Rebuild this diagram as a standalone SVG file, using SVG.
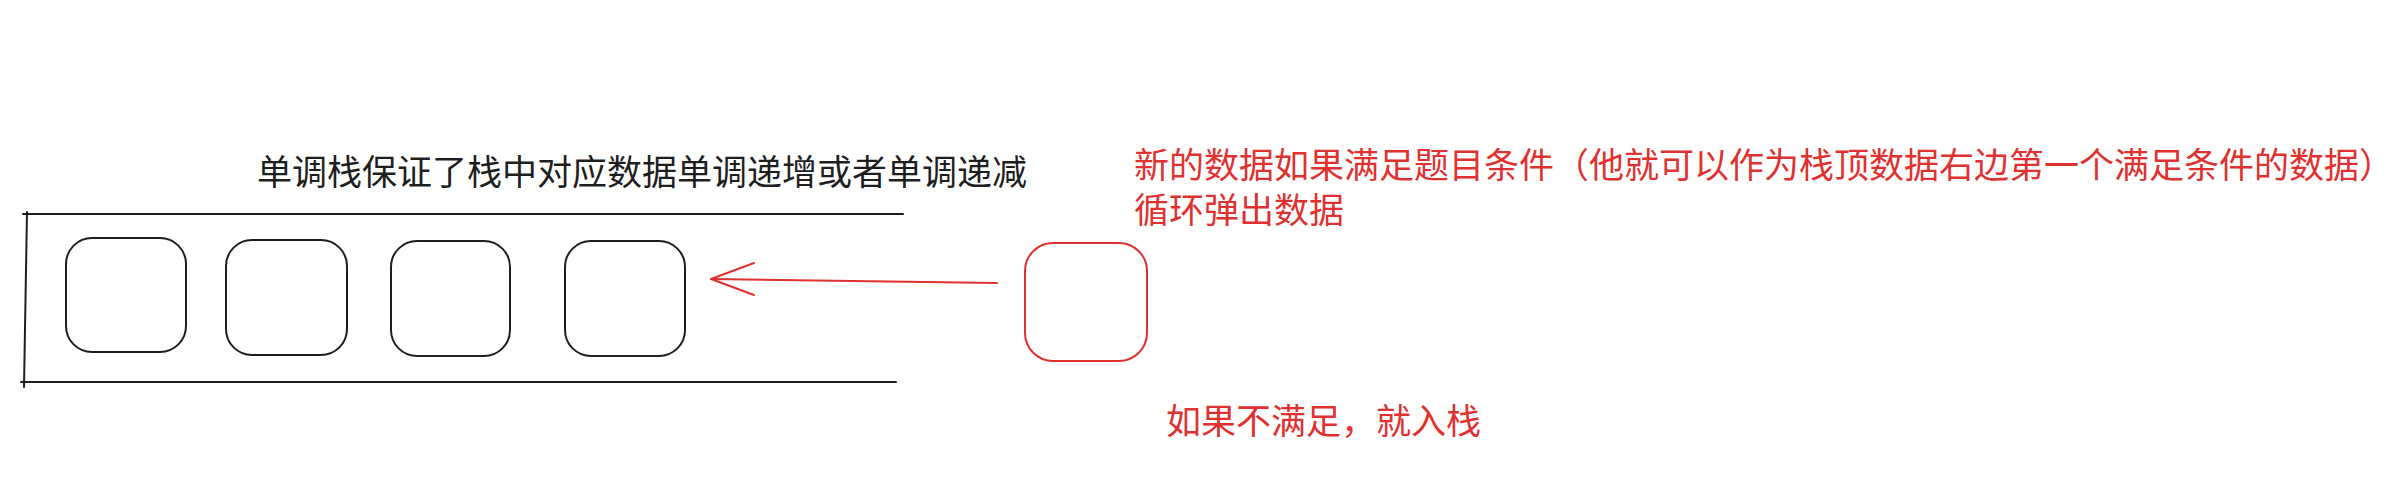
<svg xmlns="http://www.w3.org/2000/svg" width="2397" height="484" viewBox="0 0 2397 484">
<style>
.blk{fill:none;stroke:#1e1e1e;stroke-width:2;stroke-linecap:round;stroke-linejoin:round}
.red{fill:none;stroke:#e03131;stroke-width:2;stroke-linecap:round;stroke-linejoin:round}
.t{font-family:"Noto Sans CJK SC","Noto Sans",sans-serif;font-size:35px}
.tb{fill:#1e1e1e}
.tr{fill:#e03131}
</style>
<rect width="2397" height="484" fill="#ffffff"/>
<g id="stack-frame">
<path class="blk" d="M23 214 L903 214"/>
<path class="blk" d="M21 382 L896 382"/>
<path class="blk" d="M27 212 L24 387"/>
</g>
<g id="box1"><rect class="blk" x="66" y="238" width="120" height="114" rx="26"/></g>
<g id="box2"><rect class="blk" x="226" y="240" width="121" height="115" rx="26"/></g>
<g id="box3"><rect class="blk" x="391" y="241" width="119" height="115" rx="26"/></g>
<g id="box4"><rect class="blk" x="565" y="241" width="120" height="115" rx="26"/></g>
<g id="new-box"><rect class="red" x="1025" y="243" width="122" height="118" rx="28"/></g>
<g id="connectors">
<path class="red" d="M997 283 L711 279"/>
<path class="red" d="M754 263 L711 279 L754 295"/>
</g>
<g id="labels">
<text class="t tb" x="257" y="185">单调栈保证了栈中对应数据单调递增或者单调递减</text>
<text class="t tr" x="1134" y="178"><tspan x="1134" y="178">新的数据如果满足题目条件（他就可以作为栈顶数据右边第一个满足条件的数据）</tspan><tspan x="1134" y="223">循环弹出数据</tspan></text>
<text class="t tr" x="1166" y="434">如果不满足，就入栈</text>
</g>
</svg>
